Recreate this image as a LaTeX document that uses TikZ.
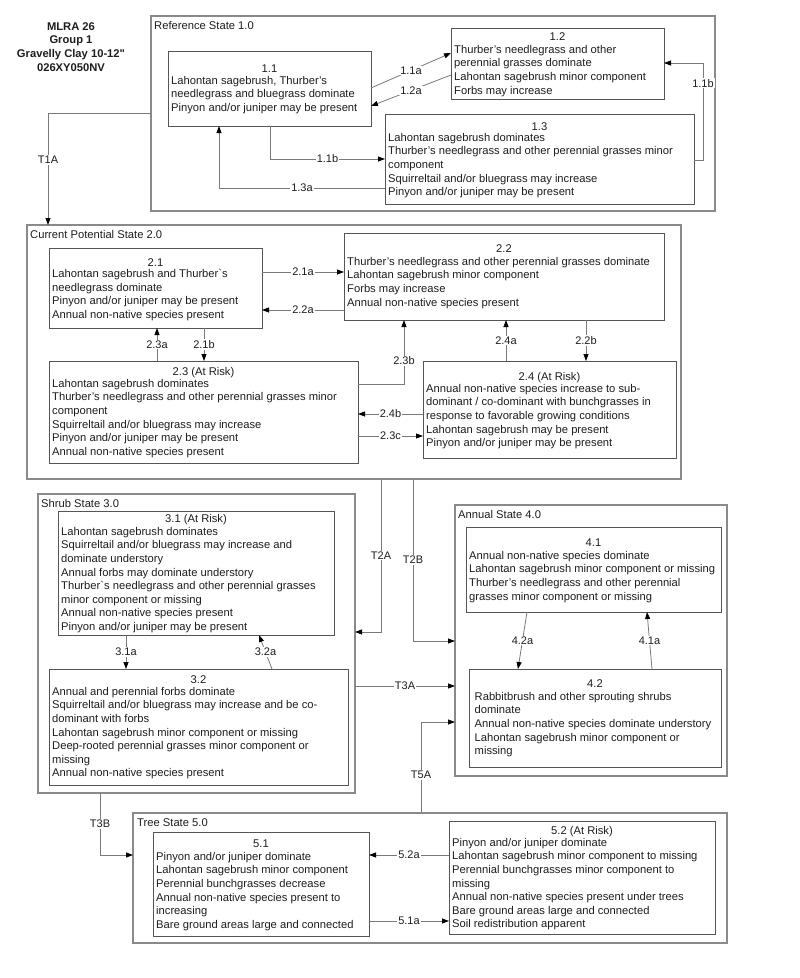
\documentclass[tikz,border=0pt]{standalone}
\usepackage{fontspec}
\newfontfamily\arial{Liberation Sans}
\usetikzlibrary{arrows.meta}
\definecolor{framecol}{HTML}{8A8A8A}
\definecolor{boxcol}{HTML}{555555}
\definecolor{conncol}{HTML}{7A7A7A}
\definecolor{txtcol}{HTML}{1E1E1E}
\newcommand\stbox[6]{\node[#1, anchor=north west, minimum width={#5-#3}, minimum height={#6-#4}] (#2) at (#3,#4) {};}
\begin{document}
\begin{tikzpicture}[x=1pt,y=-1pt,
  frame/.style={draw=framecol, line width=1.3pt, inner sep=0pt, outer sep=0pt},
  box/.style={draw=boxcol, line width=0.9pt, inner sep=0pt, outer sep=0pt},
  num/.style={font=\arial\fontsize{11.2}{13.6}\selectfont, text=txtcol, inner sep=0pt, anchor=base},
  body/.style={font=\arial\fontsize{11.2}{13.6}\selectfont, text=txtcol, align=left, inner sep=0pt, anchor=north west, yshift=9pt, execute at begin node={\rule{0pt}{9pt}}},
  flabel/.style={font=\arial\fontsize{11.2}{13.6}\selectfont, text=txtcol, inner sep=0pt, anchor=base west},
  conn/.style={draw=conncol, line width=0.8pt},
  arr/.style={conn, -{Triangle[length=7pt,width=5pt,color=black]}},
  lbl/.style={font=\arial\fontsize{11}{13}\selectfont, text=txtcol, fill=white, inner sep=1pt},
  ttl/.style={font=\arial\bfseries\fontsize{11.2}{13.7}\selectfont, text=txtcol, align=center, inner sep=0pt, anchor=north, yshift=9pt, execute at begin node={\rule{0pt}{9pt}}}
]
\fill[white] (0,0) rectangle (800,978);
\useasboundingbox (0,0) rectangle (800,978);

% title
\node[ttl] (title) at (71,31) {MLRA 26\\Group 1\\Gravelly Clay 10-12"\\026XY050NV};

% frames
\stbox{frame}{ref}{151}{16}{715}{211}
\stbox{frame}{cps}{27}{225}{681}{479}
\stbox{frame}{shrub}{38}{494}{355}{793}
\stbox{frame}{annual}{455}{505}{727}{776}
\stbox{frame}{tree}{133}{813}{727}{943}
\node[flabel] (refl) at (154,29.5) {Reference State 1.0};
\node[flabel] (cpsl) at (30,238) {Current Potential State 2.0};
\node[flabel] (shrubl) at (41,507) {Shrub State 3.0};
\node[flabel] (annuall) at (458,518) {Annual State 4.0};
\node[flabel] (treel) at (137,826) {Tree State 5.0};

% boxes
\stbox{box}{b11}{168}{51}{371}{126}
\stbox{box}{b12}{451}{28}{664}{99}
\stbox{box}{b13}{385}{114}{694}{204}
\stbox{box}{b21}{49}{248}{262}{328}
\stbox{box}{b22}{344}{233}{664}{320}
\stbox{box}{b23}{49}{361}{358}{463}
\stbox{box}{b24}{423}{361}{676}{458}
\stbox{box}{b31}{58}{511}{334}{635}
\stbox{box}{b32}{49}{669}{348}{785}
\stbox{box}{b41}{466}{527}{721}{612}
\stbox{box}{b42}{469}{669}{721}{767}
\stbox{box}{b51}{153}{832}{369}{936}
\stbox{box}{b52}{449}{821}{715}{934}

% box texts
\node[num] (b11n) at (b11.north |- 0,72) {1.1};
\node[body] (b11t) at (171,85) {Lahontan sagebrush, Thurber’s\\needlegrass and bluegrass dominate\\Pinyon and/or juniper may be present};
\node[num] (b12n) at (b12.north |- 0,40) {1.2};
\node[body] (b12t) at (454,54) {Thurber’s needlegrass and other\\perennial grasses dominate\\Lahontan sagebrush minor component\\Forbs may increase};
\node[num] (b13n) at (b13.north |- 0,130) {1.3};
\node[body] (b13t) at (388,142) {Lahontan sagebrush dominates\\Thurber’s needlegrass and other perennial grasses minor\\component\\Squirreltail and/or bluegrass may increase\\Pinyon and/or juniper may be present};

\node[num] (b21n) at (b21.north |- 0,266) {2.1};
\node[body] (b21t) at (52,278) {Lahontan sagebrush and Thurber`s\\needlegrass dominate\\Pinyon and/or juniper may be present\\Annual non-native species present};
\node[num] (b22n) at (b22.north |- 0,252) {2.2};
\node[body] (b22t) at (347,266) {Thurber’s needlegrass and other perennial grasses dominate\\Lahontan sagebrush minor component\\Forbs may increase\\Annual non-native species present};
\node[num] (b23n) at (b23.north |- 0,375) {2.3 (At Risk)};
\node[body] (b23t) at (52,388) {Lahontan sagebrush dominates\\Thurber’s needlegrass and other perennial grasses minor\\component\\Squirreltail and/or bluegrass may increase\\Pinyon and/or juniper may be present\\Annual non-native species present};
\node[num] (b24n) at (b24.north |- 0,380) {2.4 (At Risk)};
\node[body] (b24t) at (426,393) {Annual non-native species increase to sub-\\dominant / co-dominant with bunchgrasses in\\response to favorable growing conditions\\Lahontan sagebrush may be present\\Pinyon and/or juniper may be present};

\node[num] (b31n) at (b31.north |- 0,522) {3.1 (At Risk)};
\node[body] (b31t) at (61,536) {Lahontan sagebrush dominates\\Squirreltail and/or bluegrass may increase and\\dominate understory\\Annual forbs may dominate understory\\Thurber`s needlegrass and other perennial grasses\\minor component or missing\\Annual non-native species present\\Pinyon and/or juniper may be present};
\node[num] (b32n) at (b32.north |- 0,683) {3.2};
\node[body] (b32t) at (52,696) {Annual and perennial forbs dominate\\Squirreltail and/or bluegrass may increase and be co-\\dominant with forbs\\Lahontan sagebrush minor component or missing\\Deep-rooted perennial grasses minor component or\\missing\\Annual non-native species present};

\node[num] (b41n) at (b41.north |- 0,546) {4.1};
\node[body] (b41t) at (469,560) {Annual non-native species dominate\\Lahontan sagebrush minor component or missing\\Thurber’s needlegrass and other perennial\\grasses minor component or missing};
\node[num] (b42n) at (b42.north |- 0,687) {4.2};
\node[body] (b42t) at (474.5,701) {Rabbitbrush and other sprouting shrubs\\dominate\\Annual non-native species dominate understory\\Lahontan sagebrush minor component or\\missing};

\node[num] (b51n) at (b51.north |- 0,847) {5.1};
\node[body] (b51t) at (156,861) {Pinyon and/or juniper dominate\\Lahontan sagebrush minor component\\Perennial bunchgrasses decrease\\Annual non-native species present to\\increasing\\Bare ground areas large and connected};
\node[num] (b52n) at (b52.north |- 0,834) {5.2 (At Risk)};
\node[body] (b52t) at (452,847) {Pinyon and/or juniper dominate\\Lahontan sagebrush minor component to missing\\Perennial bunchgrasses minor component to\\missing\\Annual non-native species present under trees\\Bare ground areas large and connected\\Soil redistribution apparent};

% connectors state 1
\draw[arr] (b11.east |- 0,88) -- node[lbl] (l11a) {1.1a} (b12.west |- 0,53);
\draw[arr] (b12.west |- 0,75) -- node[lbl] (l12a) {1.2a} (b11.east |- 0,106);
\draw[arr] (b11.south -| 270,0) -- (270,159) -- node[lbl] (l11b) {1.1b} (b13.west |- 0,159);
\draw[arr] (b13.west |- 0,188) -- node[lbl] (l13a) {1.3a} (219,188) -- (b11.south -| 219,0);
\draw[arr] (b13.east |- 0,160) -- (703,160) -- node[lbl, pos=0.79] (l11b2) {1.1b} (703,63) -- (b12.east |- 0,63);
\draw[arr] (ref.west |- 0,113) -- (48,113) -- node[lbl, pos=0.42] (lt1a) {T1A} (cps.north -| 48,0);

% state 2
\draw[arr] (b21.east |- 0,272) -- node[lbl] (l21a) {2.1a} (b22.west |- 0,272);
\draw[arr] (b22.west |- 0,310) -- node[lbl] (l22a) {2.2a} (b21.east |- 0,310);
\draw[arr] (b23.north -| 157,0) -- node[lbl] (l23a) {2.3a} (b21.south -| 157,0);
\draw[arr] (b21.south -| 204,0) -- node[lbl] (l21b) {2.1b} (b23.north -| 204,0);
\draw[arr] (b23.east |- 0,384) -- (404,384) -- node[lbl, pos=0.36] (l23b) {2.3b} (b22.south -| 404,0);
\draw[arr] (b24.north -| 506,0) -- node[lbl] (l24a) {2.4a} (b22.south -| 506,0);
\draw[arr] (b22.south -| 586,0) -- node[lbl] (l22b) {2.2b} (b24.north -| 586,0);
\draw[arr] (b24.west |- 0,414) -- node[lbl] (l24b) {2.4b} (b23.east |- 0,414);
\draw[arr] (b23.east |- 0,436) -- node[lbl] (l23c) {2.3c} (b24.west |- 0,436);
\draw[arr] (cps.south -| 381,0) -- node[lbl] (lt2a) {T2A} (381,632) -- (shrub.east |- 0,632);
\draw[arr] (cps.south -| 413,0) -- node[lbl] (lt2b) {T2B} (413,641) -- (annual.west |- 0,641);

% state 3
\draw[arr] (b31.south -| 126,0) -- node[lbl] (l31a) {3.1a} (b32.north -| 126,0);
\draw[arr] (b32.north -| 272,0) -- node[lbl] (l32a) {3.2a} (b31.south -| 259,0);
\draw[arr] (shrub.east |- 0,686) -- node[lbl] (lt3a) {T3A} (annual.west |- 0,686);
\draw[arr] (shrub.south -| 100,0) -- node[lbl] (lt3b) {T3B} (100,855) -- (tree.west |- 0,855);

% state 4
\draw[arr] (b41.south -| 527,0) -- node[lbl] (l42a) {4.2a} (b42.north -| 518,0);
\draw[arr] (b42.north -| 652,0) -- node[lbl] (l41a) {4.1a} (b41.south -| 647,0);
\draw[arr] (tree.north -| 421,0) -- node[lbl, pos=0.42] (lt5a) {T5A} (421,722) -- (annual.west |- 0,722);

% state 5
\draw[arr] (b52.west |- 0,855) -- node[lbl] (l52a) {5.2a} (b51.east |- 0,855);
\draw[arr] (b51.east |- 0,921) -- node[lbl] (l51a) {5.1a} (b52.west |- 0,921);
\end{tikzpicture}
\end{document}
